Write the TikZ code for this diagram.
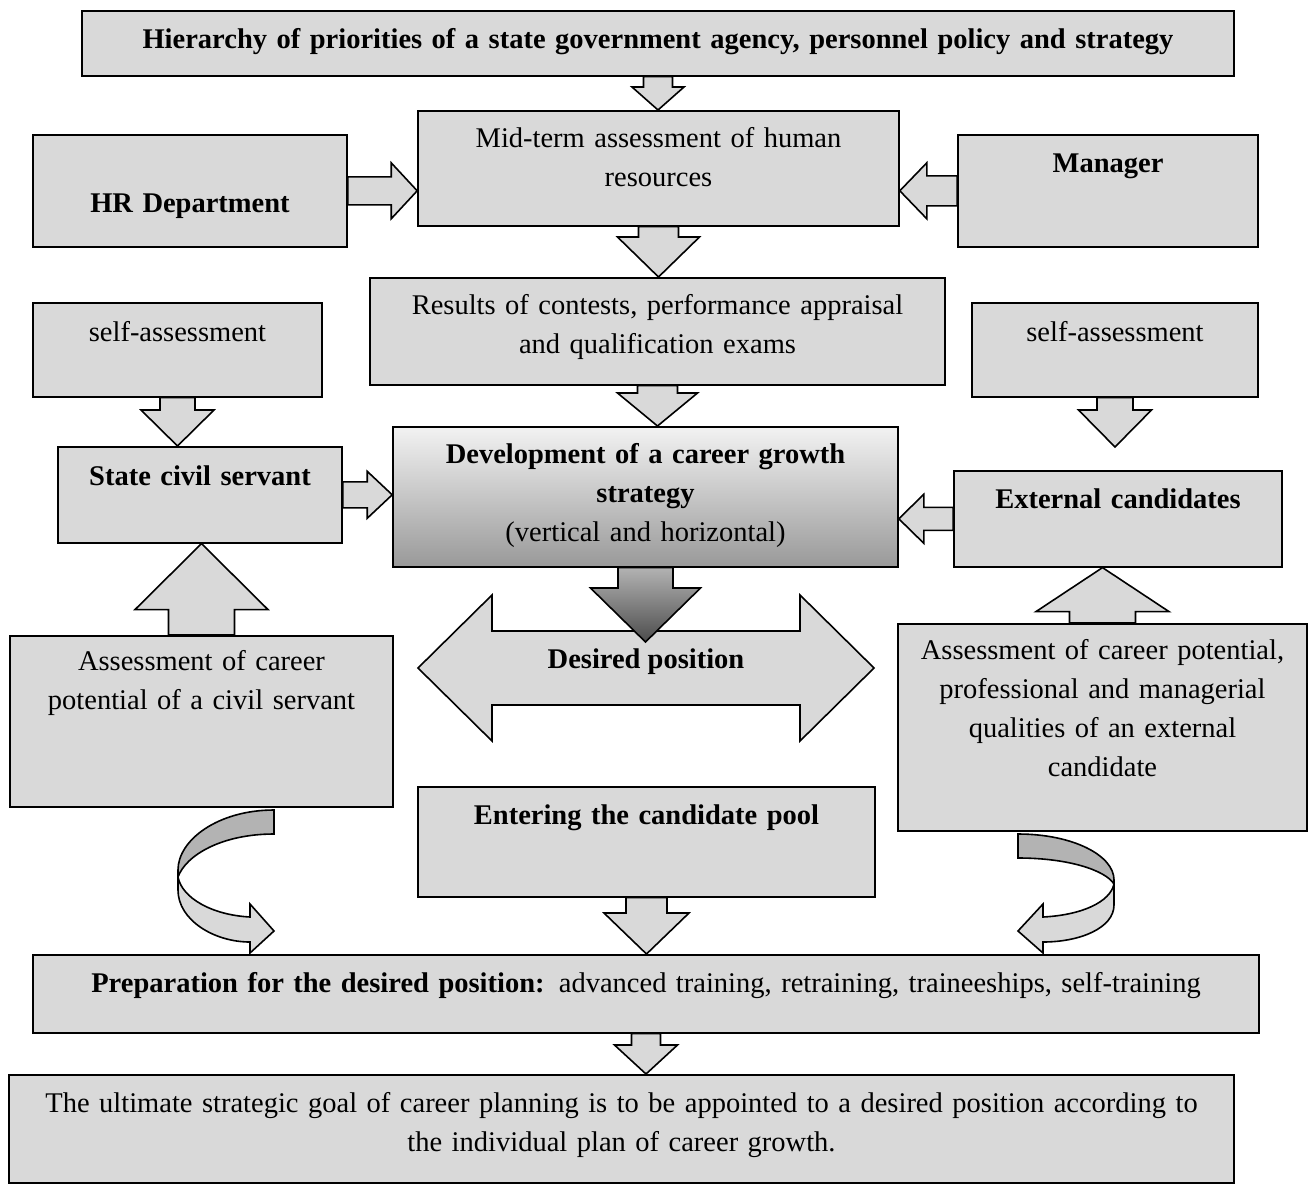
\documentclass[tikz,border=0pt]{standalone}
\usepackage{fontspec}
\setmainfont{Liberation Serif}
\usetikzlibrary{calc}

\definecolor{boxgray}{HTML}{D9D9D9}
\definecolor{foldgray}{HTML}{B3B3B3}

\tikzset{
  box/.style={draw, fill=boxgray, line width=1.6pt, inner sep=0pt, align=center,
    anchor=north, font=\fontsize{28.5}{39}\selectfont},
  shadebox/.style={box, top color=black!5, bottom color=black!40},
  lbl/.style={inner sep=0pt, anchor=base, font=\fontsize{28.5}{39}\selectfont},
  blockarrow/.style={draw, fill=boxgray, line width=1.6pt, line join=miter},
  darkarrow/.style={blockarrow, top color=black!30, bottom color=black!70},
  foldarrow/.style={blockarrow, fill=foldgray},
}

% block arrows: [style]{from}{to}{stem half}{head half}{head length}
\newcommand{\blockdown}[6][blockarrow]{%
  \draw[#1] let \p1=(#2.south), \p2=(#3) in
    (\x1-#4pt,\y1) -- (\x1-#4pt,\y2+#6pt) -- (\x1-#5pt,\y2+#6pt) -- (\x1,\y2)
    -- (\x1+#5pt,\y2+#6pt) -- (\x1+#4pt,\y2+#6pt) -- (\x1+#4pt,\y1) -- cycle;}
\newcommand{\blockup}[6][blockarrow]{%
  \draw[#1] let \p1=(#2.north), \p2=(#3) in
    (\x1-#4pt,\y1) -- (\x1-#4pt,\y2-#6pt) -- (\x1-#5pt,\y2-#6pt) -- (\x1,\y2)
    -- (\x1+#5pt,\y2-#6pt) -- (\x1+#4pt,\y2-#6pt) -- (\x1+#4pt,\y1) -- cycle;}
\newcommand{\blockright}[6][blockarrow]{%
  \draw[#1] let \p1=(#2.east), \p2=(#3) in
    (\x1,\y1+#4pt) -- (\x2-#6pt,\y1+#4pt) -- (\x2-#6pt,\y1+#5pt) -- (\x2,\y1)
    -- (\x2-#6pt,\y1-#5pt) -- (\x2-#6pt,\y1-#4pt) -- (\x1,\y1-#4pt) -- cycle;}
\newcommand{\blockleft}[6][blockarrow]{%
  \draw[#1] let \p1=(#2.west), \p2=(#3) in
    (\x1,\y1+#4pt) -- (\x2+#6pt,\y1+#4pt) -- (\x2+#6pt,\y1+#5pt) -- (\x2,\y1)
    -- (\x2+#6pt,\y1-#5pt) -- (\x2+#6pt,\y1-#4pt) -- (\x1,\y1-#4pt) -- cycle;}

\begin{document}
\begin{tikzpicture}[x=1pt, y=-1pt]
  \useasboundingbox (0,0) rectangle (1312,1189);

  % boxes
  \node[box, text width=1152pt, text height=38pt, text depth=27pt] (hier) at (658,10)
    {\bfseries Hierarchy of priorities of a state government agency, personnel policy and strategy};
  \node[box, text width=481pt, text height=37pt, text depth=78pt] (midterm) at (658.5,110)
    {Mid-term assessment of human\\resources};
  \node[box, text width=314pt, text height=78pt, text depth=34pt] (hrdep) at (190,134)
    {\bfseries HR Department};
  \node[box, text width=300pt, text height=38pt, text depth=74pt] (manager) at (1108,134)
    {\bfseries Manager};
  \node[box, text width=575pt, text height=37pt, text depth=70pt] (results) at (657.5,277)
    {Results of contests, performance appraisal\\and qualification exams};
  \node[box, text width=289pt, text height=39pt, text depth=55pt] (selfl) at (177.5,302)
    {self-assessment};
  \node[box, text width=286pt, text height=39pt, text depth=55pt] (selfr) at (1115,302)
    {self-assessment};
  \node[box, text width=284pt, text height=39pt, text depth=57pt] (servant) at (200,446)
    {\bfseries State civil servant};
  \node[shadebox, text width=505pt, text height=37pt, text depth=103pt] (strategy) at (645.5,426)
    {\textbf{Development of a career growth}\\\textbf{strategy}\\(vertical and horizontal)};
  \node[box, text width=328pt, text height=38pt, text depth=58pt] (external) at (1118,470)
    {\bfseries External candidates};
  \node[box, text width=383pt, text height=35pt, text depth=136pt] (potentiall) at (201.5,635)
    {Assessment of career\\potential of a civil servant};
  \node[box, text width=409pt, text height=36pt, text depth=171pt] (potentialr) at (1102.5,623)
    {Assessment of career potential,\\professional and managerial\\qualities of an external\\candidate};
  \node[box, text width=457pt, text height=38pt, text depth=72pt] (pool) at (646.5,786)
    {\bfseries Entering the candidate pool};
  \node[box, text width=1226pt, text height=38pt, text depth=40pt] (prep) at (646,954)
    {\textbf{Preparation for the desired position:} advanced training, retraining, traineeships, self-training};
  \node[box, text width=1225pt, text height=38pt, text depth=70pt] (goal) at (621.5,1074)
    {The ultimate strategic goal of career planning is to be appointed to a desired position according to\\the individual plan of career growth.};

  % desired position
  \draw[blockarrow] (418,668) -- (492,595) -- (492,631) -- (800,631) -- (800,595) -- (874,668)
    -- (800,741) -- (800,705) -- (492,705) -- (492,741) -- cycle;
  \coordinate (dptip) at (645.5,642);
  \blockdown[darkarrow]{strategy}{dptip}{27.5}{55}{54}
  \node[lbl] (desired) at (646,668) {\bfseries Desired position};

  % arrows
  \blockdown{hier}{midterm.north}{14.5}{26}{23}
  \blockright{hrdep}{midterm.west}{14}{28}{26}
  \blockleft{manager}{midterm.east}{15}{28}{27}
  \blockdown{midterm}{results.north}{20}{41}{40}
  \blockdown{results}{strategy.north}{20}{40}{33}
  \blockdown{selfl}{servant.north}{17.5}{36.5}{36}
  \blockright{servant}{strategy.west}{13}{23.5}{25}
  \blockup{potentiall}{servant.south}{33}{66.5}{66}
  \coordinate (selftip) at (1115,447);
  \blockdown{selfr}{selftip}{18}{36.5}{37}
  \blockleft{external}{strategy.east}{11.5}{24.5}{25}
  \blockup{potentialr}{external.south}{33}{66.5}{44}
  \blockdown{pool}{prep.north}{20.5}{42.5}{41}
  \blockdown{prep}{goal.north}{14.5}{31.5}{29}

  % curved arrows into the preparation box
  \draw[foldarrow] (274,810) .. controls (218,810) and (178,840) .. (178,870) -- (178,877)
    .. controls (186,855) and (222,834) .. (274,834) -- cycle;
  \draw[blockarrow] (178,877) -- (178,890) .. controls (178,920) and (214,942) .. (250,942)
    -- (250,953) -- (274,931) -- (250,904) -- (250,917)
    .. controls (212,915) and (182,898) .. (178,877) -- cycle;
  \draw[foldarrow] (1018,834) .. controls (1072,834) and (1114,855) .. (1114,880) -- (1114,884)
    .. controls (1105,870) and (1068,858) .. (1018,858) -- cycle;
  \draw[blockarrow] (1114,884) -- (1114,905) .. controls (1114,928) and (1080,942) .. (1043,942)
    -- (1043,953) -- (1018,931) -- (1043,904) -- (1043,917)
    .. controls (1082,915) and (1110,902) .. (1114,884) -- cycle;
\end{tikzpicture}
\end{document}
